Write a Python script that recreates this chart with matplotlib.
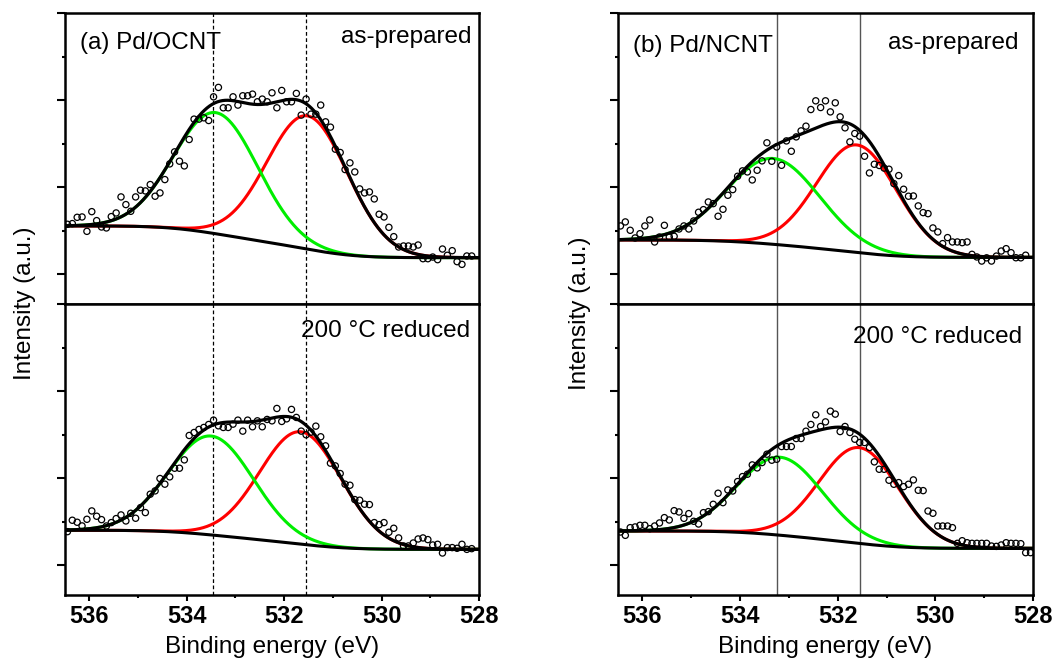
import numpy as np
import matplotlib.pyplot as plt

plt.rcParams['font.family'] = ['Liberation Sans', 'DejaVu Sans']

# measured points share one binding energy grid (0.1 eV steps from the left edge)
e_start = 536.45
e_step = 0.1

# O 1s intensities (a.u.)
ocnt_prep = [1.575, 1.583, 1.655, 1.659, 1.494, 1.720, 1.617, 1.544, 1.533, 1.663,
             1.705, 1.889, 1.801, 1.724, 1.889, 1.966, 1.958, 2.031, 1.897, 1.935,
             2.088, 2.268, 2.406, 2.299, 2.245, 2.548, 2.782, 2.782, 2.797, 2.766,
             3.038, 3.146, 2.912, 2.912, 3.038, 2.943, 3.050, 3.050, 3.069, 2.981,
             3.012, 2.981, 3.084, 2.912, 3.111, 2.981, 2.981, 3.077, 2.828, 3.012,
             2.839, 2.839, 2.943, 2.751, 2.690, 2.437, 2.399, 2.203, 2.280, 2.176,
             1.981, 1.935, 1.946, 1.866, 1.690, 1.659, 1.540, 1.433, 1.314, 1.326,
             1.326, 1.314, 1.337, 1.180, 1.180, 1.199, 1.169, 1.291, 1.219, 1.272,
             1.146, 1.115, 1.211, 1.211]
ocnt_red = [1.387, 1.518, 1.495, 1.453, 1.529, 1.625, 1.564, 1.525, 1.452, 1.491,
            1.537, 1.579, 1.510, 1.598, 1.541, 1.663, 1.606, 1.817, 1.855, 1.997,
            1.932, 2.016, 2.115, 2.115, 2.211, 2.491, 2.525, 2.560, 2.583, 2.617,
            2.667, 2.602, 2.583, 2.583, 2.621, 2.667, 2.541, 2.667, 2.591, 2.659,
            2.591, 2.675, 2.659, 2.801, 2.652, 2.682, 2.790, 2.698, 2.541, 2.499,
            2.529, 2.598, 2.476, 2.372, 2.173, 2.142, 2.054, 1.932, 1.920, 1.755,
            1.748, 1.702, 1.698, 1.491, 1.468, 1.491, 1.380, 1.426, 1.315, 1.223,
            1.223, 1.257, 1.303, 1.315, 1.296, 1.234, 1.242, 1.142, 1.204, 1.204,
            1.196, 1.242, 1.184, 1.192]
ncnt_prep = [1.556, 1.602, 1.506, 1.418, 1.467, 1.556, 1.625, 1.372, 1.429, 1.563,
             1.429, 1.437, 1.521, 1.556, 1.521, 1.613, 1.713, 1.743, 1.831, 1.812,
             1.667, 1.747, 1.908, 1.973, 2.126, 2.188, 2.176, 2.084, 2.195, 2.303,
             2.510, 2.298, 2.463, 2.252, 2.532, 2.413, 2.578, 2.647, 2.701, 2.892,
             2.992, 2.915, 2.992, 2.865, 2.969, 2.808, 2.682, 2.521, 2.617, 2.586,
             2.356, 2.164, 2.264, 2.250, 2.220, 2.207, 2.042, 2.134, 1.977, 1.897,
             1.900, 1.786, 1.709, 1.697, 1.533, 1.487, 1.353, 1.422, 1.372, 1.372,
             1.364, 1.372, 1.230, 1.200, 1.153, 1.190, 1.153, 1.210, 1.268, 1.295,
             1.249, 1.191, 1.190, 1.220]
ncnt_red = [1.383, 1.345, 1.433, 1.441, 1.460, 1.460, 1.421, 1.452, 1.487, 1.548,
            1.521, 1.628, 1.613, 1.540, 1.594, 1.506, 1.475, 1.605, 1.617, 1.701,
            1.828, 1.720, 1.866, 1.854, 1.962, 2.019, 2.046, 2.153, 2.119, 2.180,
            2.276, 2.207, 2.218, 2.364, 2.364, 2.364, 2.456, 2.456, 2.540, 2.617,
            2.728, 2.594, 2.647, 2.770, 2.736, 2.536, 2.594, 2.525, 2.448, 2.410,
            2.410, 2.352, 2.188, 2.103, 2.103, 1.977, 1.931, 1.950, 1.904, 1.931,
            1.981, 1.862, 1.858, 1.624, 1.598, 1.452, 1.452, 1.452, 1.433, 1.253,
            1.283, 1.260, 1.253, 1.253, 1.253, 1.253, 1.222, 1.218, 1.234, 1.260,
            1.253, 1.253, 1.249, 1.146, 1.146]

# fitted components: (centre eV, height above background, sigma eV)
# first = green (high BE), second = red (low BE)
ocnt_prep_peaks = [(533.40, 1.39, 0.86), (531.52, 1.53, 0.83)]
ocnt_red_peaks = [(533.50, 1.135, 0.87), (531.66, 1.29, 0.84)]
ncnt_prep_peaks = [(533.32, 0.985, 0.95), (531.61, 1.235, 0.82)]
ncnt_red_peaks = [(533.18, 0.895, 0.87), (531.56, 1.10, 0.815)]

# Shirley background levels (high BE side, low BE side)
ocnt_prep_bg = (1.556, 1.192)
ocnt_red_bg = (1.403, 1.184)
ncnt_prep_bg = (1.395, 1.195)
ncnt_red_bg = (1.395, 1.195)

# reference lines (eV)
ocnt_lines = [533.46, 531.55]
ncnt_lines = [533.25, 531.55]

GREEN = '#00ee00'
RED = '#ff0000'


def fit_curves(ef, peaks, bg):
    comps = [h * np.exp(-(ef - c) ** 2 / (2 * s ** 2)) for c, h, s in peaks]
    tot = comps[0] + comps[1]
    area = np.cumsum(tot[::-1])[::-1]
    back = bg[1] + (bg[0] - bg[1]) * area / area[0]
    return back, comps


def draw_panel(ax, data, peaks, bg, lines, line_style, bottom):
    ef = np.linspace(536.5, 528.0, 800)
    back, comps = fit_curves(ef, peaks, bg)
    e = e_start - e_step * np.arange(len(data))
    ax.plot(ef, back + comps[1], color=RED, lw=2.2, zorder=2)
    ax.plot(ef, back + comps[0], color=GREEN, lw=2.2, zorder=2)
    ax.plot(ef, back, color='black', lw=2.2, zorder=3)
    ax.plot(ef, back + comps[0] + comps[1], color='black', lw=2.3, zorder=3)
    ax.scatter(e, data, s=20, facecolors='none', edgecolors='black',
               linewidths=0.9, zorder=4)
    for x in lines:
        ax.axvline(x, **line_style, zorder=1)
    ax.set_xlim(536.5, 528.0)
    ax.set_ylim(0.66, 4.0)
    ax.set_xticks([536, 534, 532, 530, 528])
    ax.set_xticks([535, 533, 531, 529], minor=True)
    ax.set_yticks([1, 2, 3, 4])
    ax.set_yticks([1.5, 2.5, 3.5], minor=True)
    ax.set_yticklabels([])
    for sp in ax.spines.values():
        sp.set_linewidth(1.8)
    ax.tick_params(axis='y', which='major', direction='out', length=5.5, width=1.5,
                   right=False)
    ax.tick_params(axis='y', which='minor', direction='out', length=2.5, width=1.5,
                   right=False)
    if bottom:
        ax.tick_params(axis='x', which='major', direction='out', length=4.5, width=1.5,
                       labelsize=17, pad=3, top=False)
        ax.tick_params(axis='x', which='minor', direction='out', length=2.5, width=1.5,
                       top=False)
        for lab in ax.get_xticklabels():
            lab.set_fontweight('bold')
    else:
        ax.tick_params(axis='x', which='both', bottom=False, top=False,
                       labelbottom=False)


fig = plt.figure(figsize=(10.54, 6.61), dpi=100)
W, H = 1054, 661
dash = dict(color='black', lw=0.9, linestyle=(0, (3, 2)))
solid = dict(color='#555555', lw=1.0)

panels = [
    (65, ocnt_prep, ocnt_red, ocnt_prep_peaks, ocnt_red_peaks, ocnt_prep_bg, ocnt_red_bg,
     ocnt_lines, dash, '(a) Pd/OCNT'),
    (618, ncnt_prep, ncnt_red, ncnt_prep_peaks, ncnt_red_peaks, ncnt_prep_bg, ncnt_red_bg,
     ncnt_lines, solid, '(b) Pd/NCNT'),
]

text_pos = {65: dict(title=(0.036, 0.876), prep=(0.983, 0.897), red=(0.978, 0.887),
                     ylab=(25, 303)),
            618: dict(title=(0.036, 0.866), prep=(0.966, 0.876), red=(0.973, 0.866),
                      ylab=(580, 313))}

for left, d_top, d_bot, p_top, p_bot, b_top, b_bot, lines, style, title in panels:
    width = 415 if left == 618 else 414
    ax_t = fig.add_axes([left / W, 357 / H, width / W, 291 / H])
    ax_b = fig.add_axes([left / W, 66 / H, width / W, 291 / H])
    draw_panel(ax_t, d_top, p_top, b_top, lines, style, False)
    draw_panel(ax_b, d_bot, p_bot, b_bot, lines, style, True)
    tp = text_pos[left]
    ax_t.text(*tp['title'], title, transform=ax_t.transAxes, fontsize=17.5,
              ha='left', va='baseline')
    ax_t.text(*tp['prep'], 'as-prepared', transform=ax_t.transAxes, fontsize=17.5,
              ha='right', va='baseline')
    ax_b.text(*tp['red'], '200 \u00b0C reduced', transform=ax_b.transAxes,
              fontsize=17.5, ha='right', va='baseline')
    yx, yy = tp['ylab']
    fig.text(yx / W, 1 - yy / H, 'Intensity (a.u.)', rotation=90, fontsize=17.5,
             ha='center', va='center')
    fig.text((left + width / 2) / W, 1 - 647 / H, 'Binding energy (eV)',
             fontsize=17.5, ha='center', va='center')

fig.savefig('out.png', dpi=100)
